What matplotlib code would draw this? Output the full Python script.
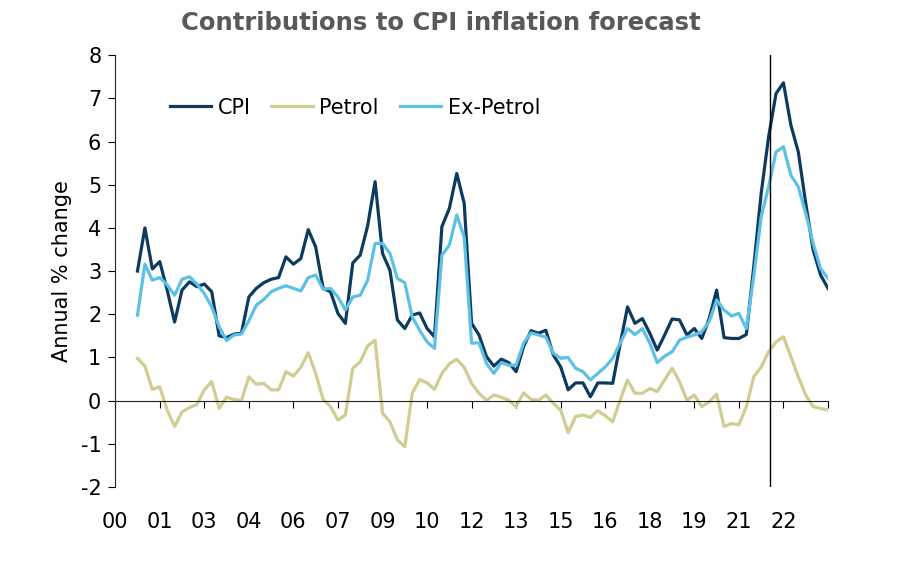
import matplotlib.pyplot as plt
import numpy as np

plt.rcParams["axes.unicode_minus"] = False

# quarterly data, 2000Q4 .. 2023Q4 (years after 2000)
cpi = [3.0, 4.0, 3.05, 3.22, 2.56, 1.82, 2.56, 2.75, 2.64, 2.70,
       2.52, 1.50, 1.46, 1.54, 1.56, 2.40, 2.60, 2.73, 2.81, 2.85,
       3.33, 3.16, 3.29, 3.96, 3.56, 2.60, 2.52, 2.02, 1.79, 3.19,
       3.37, 4.05, 5.07, 3.41, 3.02, 1.87, 1.67, 1.98, 2.03, 1.67,
       1.48, 4.03, 4.45, 5.26, 4.57, 1.79, 1.52, 1.02, 0.80, 0.96,
       0.88, 0.67, 1.25, 1.62, 1.56, 1.63, 1.06, 0.78, 0.25, 0.41,
       0.41, 0.09, 0.41, 0.41, 0.40, 1.30, 2.17, 1.79, 1.90, 1.56,
       1.17, 1.52, 1.89, 1.87, 1.52, 1.67, 1.44, 1.90, 2.56, 1.46,
       1.44, 1.44, 1.53, 3.10, 4.80, 6.11, 7.11, 7.36, 6.38, 5.76,
       4.57, 3.49, 2.91, 2.60]

petrol = [0.98, 0.80, 0.26, 0.32, -0.22, -0.60, -0.26, -0.16, -0.09, 0.25,
          0.44, -0.18, 0.08, 0.03, 0.00, 0.55, 0.38, 0.40, 0.25, 0.25,
          0.67, 0.57, 0.77, 1.11, 0.63, 0.03, -0.14, -0.45, -0.33, 0.75,
          0.90, 1.27, 1.40, -0.29, -0.49, -0.91, -1.07, 0.17, 0.49, 0.41,
          0.26, 0.63, 0.85, 0.96, 0.77, 0.40, 0.17, 0.01, 0.13, 0.08,
          0.01, -0.14, 0.18, 0.03, 0.01, 0.13, -0.06, -0.22, -0.74, -0.37,
          -0.33, -0.39, -0.23, -0.35, -0.49, 0.01, 0.48, 0.17, 0.17, 0.28,
          0.21, 0.48, 0.75, 0.44, 0.01, 0.13, -0.14, -0.03, 0.15, -0.60,
          -0.53, -0.56, -0.14, 0.55, 0.78, 1.13, 1.36, 1.48, 1.02, 0.55,
          0.13, -0.14, -0.18, -0.22]

ex_petrol = [1.98, 3.16, 2.79, 2.85, 2.68, 2.44, 2.81, 2.87, 2.70, 2.48,
             2.17, 1.71, 1.39, 1.52, 1.54, 1.85, 2.21, 2.34, 2.52, 2.60,
             2.66, 2.60, 2.54, 2.85, 2.91, 2.58, 2.60, 2.40, 2.10, 2.40,
             2.44, 2.79, 3.64, 3.64, 3.41, 2.83, 2.73, 1.94, 1.63, 1.36,
             1.21, 3.37, 3.60, 4.30, 3.79, 1.33, 1.34, 0.86, 0.63, 0.88,
             0.82, 0.82, 1.33, 1.57, 1.52, 1.47, 1.10, 0.98, 1.00, 0.75,
             0.67, 0.48, 0.63, 0.78, 0.98, 1.33, 1.67, 1.53, 1.67, 1.33,
             0.88, 1.03, 1.13, 1.40, 1.47, 1.52, 1.60, 1.83, 2.33, 2.10,
             1.96, 2.02, 1.67, 2.87, 4.26, 4.95, 5.76, 5.88, 5.22, 4.95,
             4.34, 3.64, 3.06, 2.83]

tick_labels = ["00", "01", "03", "04", "06", "07", "09", "10", "12",
               "13", "15", "16", "18", "19", "21", "22", ""]
forecast_start = 22.05

x = 0.75 + 0.25 * np.arange(len(cpi))

fig = plt.figure(figsize=(9, 5.63), dpi=100)
ax = fig.add_axes([0.128, 0.135, 0.792, 0.767])

ax.plot(x, cpi, color="#0d3b5e", lw=2.3, label="CPI")
ax.plot(x, petrol, color="#d0cc92", lw=2.3, label="Petrol")
ax.plot(x, ex_petrol, color="#5cc1e6", lw=2.3, label="Ex-Petrol")
ax.axvline(forecast_start, color="black", lw=1.0)

ax.set_xlim(0, 24)
ax.set_ylim(-2, 8)
ax.set_yticks(range(-2, 9))
ax.tick_params(axis="y", direction="out", length=5, labelsize=15, pad=5)

xt = np.arange(0, 24.1, 1.5)
ax.set_xticks(xt)
ax.tick_params(axis="x", direction="out", length=5, labelbottom=False)
ax.spines["bottom"].set_position(("data", 0))
ax.spines["top"].set_visible(False)
ax.spines["right"].set_visible(False)
for s in ["bottom", "left"]:
    ax.spines[s].set_color("#222222")

sec = ax.secondary_xaxis("bottom")
sec.set_xticks(xt)
sec.set_xticklabels(tick_labels)
sec.tick_params(length=0, labelsize=15, pad=18)
sec.spines["bottom"].set_visible(False)

ax.set_ylabel("Annual % change", fontsize=15, labelpad=6)
fig.suptitle("Contributions to CPI inflation forecast", x=0.49, y=0.98,
             fontsize=17.5, fontweight="bold", color="#595959")

ax.legend(loc="upper left", bbox_to_anchor=(0.05, 0.945), ncol=3,
          frameon=False, fontsize=15, handlelength=2.0,
          handletextpad=0.3, columnspacing=1.0)

fig.savefig("out.png", dpi=100)
